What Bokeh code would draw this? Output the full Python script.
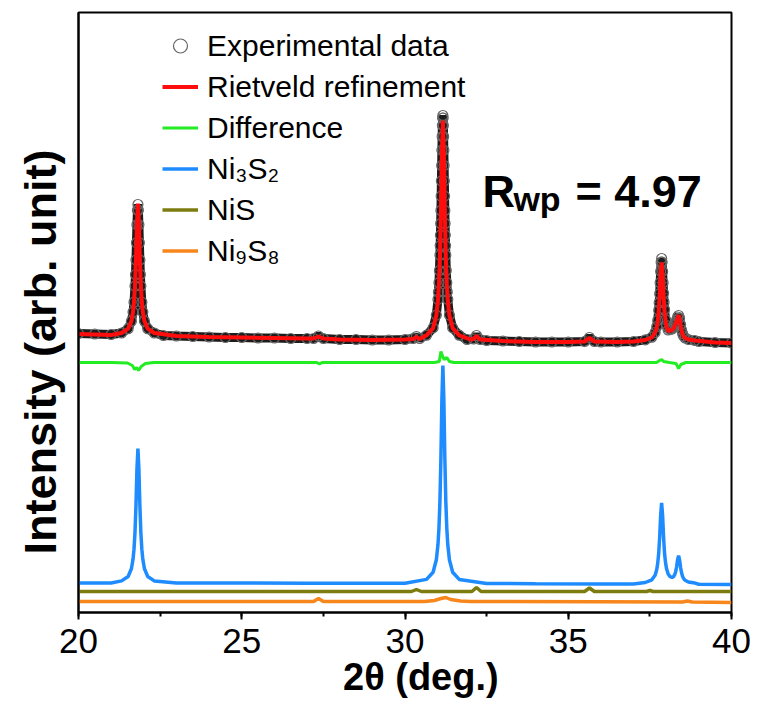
import math
from bokeh.plotting import figure
from bokeh.models import (Range1d, SingleIntervalTicker, FixedTicker, Label,
                          Legend, LegendItem, Title)
from bokeh.embed import file_html
from bokeh.resources import INLINE

# ---------------- data ----------------
two_theta_obs = [
    20.0, 20.5, 21.0,
    21.32, 21.52, 21.62, 21.67, 21.70, 21.73, 21.745, 21.76, 21.775, 21.79, 21.805,
    21.82, 21.835, 21.85, 21.865, 21.88, 21.895, 21.91, 21.94, 21.97, 22.02, 22.12, 22.32,
    22.6, 23.0, 23.5, 24.0, 24.5, 25.0, 25.5, 26.0, 26.5, 27.0, 27.2, 27.35, 27.5,
    28.0, 28.5, 29.0, 29.5, 30.0, 30.25, 30.35, 30.45,
    30.66, 30.86, 30.96, 31.01, 31.025, 31.04, 31.055, 31.07, 31.0775, 31.085, 31.0925,
    31.10, 31.1075, 31.115, 31.1225, 31.13, 31.1375, 31.145, 31.1525, 31.16,
    31.1675, 31.175, 31.1825, 31.19, 31.1975, 31.205, 31.2125, 31.22, 31.2275, 31.235,
    31.2425, 31.25, 31.265, 31.28, 31.295, 31.31, 31.36, 31.46, 31.66,
    31.9, 32.1, 32.19, 32.3, 32.5, 33.0, 33.5, 34.0, 34.5, 35.0, 35.5, 35.65, 35.8,
    36.0, 36.5, 37.0,
    37.36, 37.56, 37.66, 37.71, 37.74, 37.77, 37.785, 37.80, 37.815, 37.83, 37.845,
    37.86, 37.875, 37.89, 37.905, 37.92, 37.935, 37.95, 37.98, 38.01, 38.06,
    38.12, 38.18, 38.23, 38.26, 38.29, 38.32, 38.35, 38.38,
    38.41, 38.44, 38.47, 38.50, 38.53, 38.58, 38.68, 38.88,
    39.0, 39.5, 40.0]
intensity_obs = [
    279, 278.5, 278,
    279.5, 283.8, 291.3, 300.4, 310.3, 326.4, 338.0, 352.5, 369.7, 387.7, 402.2,
    408, 402.2, 387.7, 369.7, 352.5, 338.0, 326.4, 310.3, 300.4, 291.3, 283.8, 279.5,
    277, 276.5, 276, 275.5, 275, 275, 274.5, 274.5, 274, 274, 274, 276.5, 274,
    273, 273, 272.5, 272.5, 273, 274, 276, 274,
    277.3, 284.6, 297.4, 313.1, 320.5, 329.9, 342.0, 357.4, 366.9, 377.4, 389.0,
    402.0, 416.4, 431.6, 447.0, 462.3, 476.0, 487.1, 494.5, 497,
    494.5, 487.1, 476.0, 462.3, 447.0, 431.6, 416.4, 402.0, 389.0, 377.4,
    366.9, 357.4, 342.0, 329.9, 320.5, 313.1, 297.4, 284.6, 277.3,
    273, 273.5, 277, 273, 272, 271.5, 271, 270.5, 270.5, 270.5, 271, 275, 271,
    270.5, 270.5, 271,
    272.6, 275.3, 280.0, 285.9, 292.1, 302.3, 309.7, 318.8, 329.8, 341.1, 350.3,
    354, 350.3, 341.1, 329.8, 319.3, 310.3, 303.0, 292.9, 286.9, 282.5,
    283, 283.5, 285.5, 287.5, 290, 292.5, 295.5, 297,
    294.5, 288, 282.5, 279, 276.5, 274.5, 273, 272,
    271, 270, 269.5]

two_theta_calc = [
    20.0, 21.0,
    21.32, 21.52, 21.62, 21.67, 21.70, 21.73, 21.76, 21.79, 21.82, 21.85, 21.88, 21.91,
    21.94, 21.97, 22.02, 22.12, 22.32,
    23.0, 24.0, 25.0, 26.0, 27.0, 27.2, 27.35, 27.5, 28.0, 29.0, 30.0, 30.25, 30.35, 30.45,
    30.66, 30.86, 30.96, 31.01, 31.04, 31.07, 31.10, 31.13, 31.16, 31.19, 31.22, 31.25,
    31.28, 31.31, 31.36, 31.46, 31.66,
    32.0, 32.1, 32.19, 32.3, 33.0, 34.0, 35.0, 35.5, 35.65, 35.8, 36.5, 37.0,
    37.36, 37.56, 37.66, 37.71, 37.74, 37.77, 37.80, 37.83, 37.86, 37.89, 37.92, 37.95,
    37.98, 38.01, 38.06, 38.12, 38.18, 38.23, 38.26, 38.29, 38.32, 38.35, 38.38,
    38.41, 38.44, 38.47, 38.50, 38.53, 38.58, 38.68, 38.88,
    39.5, 40.0]
intensity_calc = [
    278.5, 277.5,
    279.5, 283.9, 291.4, 300.6, 310.5, 326.8, 353.0, 388.5, 409, 388.5, 353.0, 326.8,
    310.5, 300.6, 291.4, 283.9, 279.5,
    276.5, 275.5, 275, 274.5, 274, 274, 276, 274, 273, 272.5, 273, 273.5, 275.5, 273.5,
    277.2, 284.4, 296.9, 312.2, 328.6, 355.6, 399.1, 458.1, 492, 458.1, 399.1, 355.6,
    328.6, 312.2, 296.9, 284.4, 277.2,
    273, 273.5, 276.5, 273, 271.5, 270.5, 270.5, 271, 274.5, 271, 270.5, 271,
    272.5, 275, 280, 285, 291, 301, 317, 338, 350, 338, 317, 301,
    292, 286, 281.5, 282, 282.5, 284.5, 286.5, 289, 291.5, 294.5, 297.5,
    294, 287.5, 282, 278.5, 276, 274.5, 273, 272,
    270, 269.5]

two_theta_diff = [20.0, 21.0, 21.5, 21.65, 21.72, 21.78, 21.84, 21.92, 22.05, 22.3, 25.0,
                  27.3, 27.38, 27.46, 30.3, 30.9, 31.05, 31.1, 31.14, 31.2, 31.28, 31.36,
                  31.5, 35.0, 37.7, 37.8, 37.86, 37.92, 38.1, 38.3, 38.38, 38.45, 38.6, 40.0]
intensity_diff = [250, 250, 249.5, 247, 243, 245, 242, 246, 249, 250, 250,
                  250, 248.5, 250, 250, 250, 251, 261, 257, 253, 255, 251,
                  250, 250, 250, 252, 253, 251, 250, 249, 244, 248, 250, 250]

two_theta_ni3s2 = [
    20.0, 21.0,
    21.32, 21.52, 21.62, 21.67, 21.70, 21.73, 21.76, 21.79, 21.82, 21.85, 21.88, 21.91,
    21.94, 21.97, 22.02, 22.12, 22.32,
    23.0, 25.0, 27.0, 29.0, 30.0,
    30.66, 30.86, 30.96, 31.01, 31.04, 31.07, 31.10, 31.13, 31.16, 31.19, 31.22, 31.25,
    31.28, 31.31, 31.36, 31.46, 31.66,
    32.5, 34.0, 36.0, 37.0,
    37.36, 37.56, 37.66, 37.71, 37.74, 37.77, 37.80, 37.83, 37.86, 37.89, 37.92, 37.95,
    37.98, 38.01, 38.06, 38.12, 38.18, 38.23, 38.26, 38.29, 38.32, 38.35, 38.38,
    38.41, 38.44, 38.47, 38.50, 38.53, 38.58, 38.68, 38.88,
    39.0, 40.0]
intensity_ni3s2 = [
    29.5, 29.5,
    31.6, 36.0, 43.7, 53.2, 63.3, 79.9, 106.8, 143.1, 164, 143.1, 106.8, 79.9,
    63.3, 53.2, 43.7, 36.0, 31.6,
    29.5, 29.5, 29.3, 29.2, 29.2,
    33.1, 40.3, 52.8, 68.0, 84.4, 111.2, 154.6, 213.2, 247, 213.2, 154.6, 111.2,
    84.4, 68.0, 52.8, 40.3, 33.1,
    29, 28.8, 28.6, 28.5,
    30.0, 32.7, 37.3, 43.0, 49.1, 59.0, 75.2, 96.9, 109.5, 96.9, 75.2, 59.0,
    49.9, 43.9, 38.5, 35.8, 35.1, 36.1, 37.8, 40.8, 45.9, 52.9, 56.9,
    52.6, 45.2, 39.7, 36.3, 34.1, 32.2, 30.5, 29.4,
    28.3, 28.0]

two_theta_nis = [20.0, 30.2, 30.35, 30.5, 32.05, 32.19, 32.33, 35.5, 35.65, 35.8,
                 37.4, 37.5, 37.6, 40.0]
intensity_nis = [21, 21, 23, 21, 21, 25, 21, 21, 24.5, 21, 21, 22, 21, 21]

two_theta_ni9s8 = [20.0, 27.2, 27.35, 27.5, 30.6, 30.9, 31.1, 31.25, 31.4, 31.7, 32.0,
                   38.5, 38.65, 38.8, 40.0]
intensity_ni9s8 = [11, 11, 14, 11, 11, 12, 14, 15, 13, 11.5, 11, 10.5, 11.5, 10.5, 10]

legend_labels = ["Experimental data", "Rietveld refinement", "Difference",
                 "Ni\u2083S\u2082", "NiS", "Ni\u2089S\u2088"]
x_ticks_interval = 5

FONT = "Liberation Sans"
NBSP = "\u00a0"

# ---------------- figure ----------------
p = figure(width=758, height=710, output_backend="svg", toolbar_location=None,
           title=None, x_range=Range1d(20, 40), y_range=Range1d(0, 600),
           min_border_left=78, min_border_right=27, min_border_top=12,
           min_border_bottom=98)
p.background_fill_color = "white"
p.border_fill_color = "white"
p.outline_line_color = "black"
p.outline_line_width = 2
p.grid.visible = False

xa = p.xaxis[0]
xa.ticker = SingleIntervalTicker(interval=x_ticks_interval, num_minor_ticks=2)
xa.axis_line_width = 2
xa.major_tick_line_width = 2
xa.minor_tick_line_width = 2
xa.major_tick_in = 0
xa.major_tick_out = 7
xa.minor_tick_in = 0
xa.minor_tick_out = 4
xa.major_label_text_font = FONT
xa.major_label_text_font_size = "35px"
xa.major_label_text_color = "black"
xa.major_label_standoff = 9
xa.axis_label = NBSP * 3 + "2\u03b8 (deg.)"
xa.axis_label_text_font = FONT
xa.axis_label_text_font_size = "38px"
xa.axis_label_text_font_style = "bold"
xa.axis_label_text_color = "black"
xa.axis_label_standoff = 0

ya = p.yaxis[0]
ya.ticker = FixedTicker(ticks=[])
ya.axis_line_width = 2
ya.major_tick_line_color = None
ya.minor_tick_line_color = None
ya.major_tick_out = 0
ya.minor_tick_out = 0
ya.major_label_standoff = 0

ytitle = Title(text="Intensity (arb. unit)", align="left", vertical_align="top",
               offset=58, text_font=FONT, text_font_size="45px",
               text_font_style="bold", text_color="black", standoff=22)
p.add_layout(ytitle, "left")

# ---------------- glyphs ----------------
p.line(two_theta_obs, intensity_obs, line_color="#1c1c1c", line_width=9)
r_obs = p.scatter(two_theta_obs, intensity_obs, marker="circle", size=10,
                  fill_color=None, line_color="#666666", line_width=1.2)
r_calc = p.line(two_theta_calc, intensity_calc, line_color="#ff0d0d", line_width=4)
r_diff = p.line(two_theta_diff, intensity_diff, line_color="#22ec22", line_width=3)
r_ni3s2 = p.line(two_theta_ni3s2, intensity_ni3s2, line_color="#1e8cff", line_width=3.5)
r_nis = p.line(two_theta_nis, intensity_nis, line_color="#7c7c10", line_width=3.5)
r_ni9s8 = p.line(two_theta_ni9s8, intensity_ni9s8, line_color="#f7861c", line_width=3.5)

legend = Legend(items=[LegendItem(label=lab, renderers=[r]) for lab, r in zip(
    legend_labels, [r_obs, r_calc, r_diff, r_ni3s2, r_nis, r_ni9s8])],
    location=(84, 344), margin=0, padding=0, border_line_color=None,
    background_fill_alpha=0, label_text_font=FONT, label_text_font_size="30px",
    label_text_color="black", glyph_width=36, glyph_height=35, label_height=35,
    spacing=6, label_standoff=9)
p.add_layout(legend)

# ---------------- R_wp annotation ----------------
p.add_layout(Label(x=32.375, y=421, text="R", text_align="left",
                   text_baseline="alphabetic", text_font=FONT, text_font_size="45px",
                   text_font_style="bold", text_color="black"))
p.add_layout(Label(x=33.32, y=414, text="wp", text_align="left",
                   text_baseline="alphabetic", text_font=FONT, text_font_size="34px",
                   text_font_style="bold", text_color="black"))
p.add_layout(Label(x=35.22, y=421, text="= 4.97", text_align="left",
                   text_baseline="alphabetic", text_font=FONT, text_font_size="45px",
                   text_font_style="bold", text_color="black"))

open("out.html", "w").write(file_html(p, INLINE))
